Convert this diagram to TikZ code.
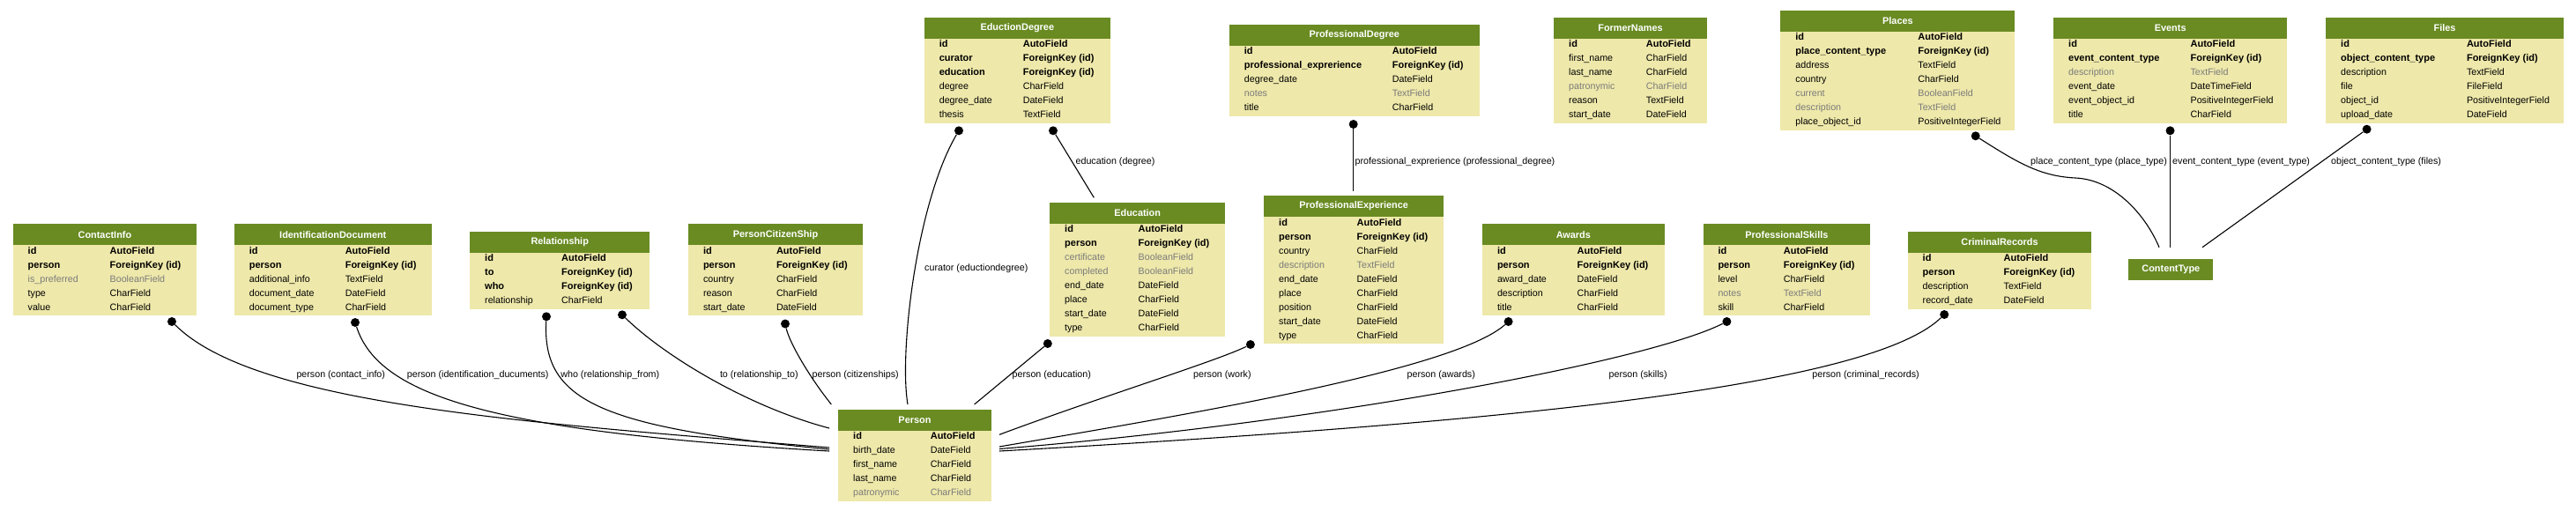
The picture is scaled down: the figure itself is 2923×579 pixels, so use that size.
\documentclass[tikz,border=0pt]{standalone}
\usepackage{fontspec}
\setmainfont{Liberation Sans}
\definecolor{hdr}{HTML}{698B22}
\definecolor{bodyc}{HTML}{EEE8AA}
\definecolor{nullc}{HTML}{7B7B7B}
\newcommand\ersz{\fontsize{10.7}{12.8}\selectfont}
\newcommand\erbsz{\fontsize{11}{13}\selectfont\bfseries}
\tikzset{
 hdrbox/.style={fill=hdr, text=white, font=\fontsize{10.9}{13}\selectfont\bfseries, inner sep=0pt, minimum height=24pt, anchor=north west},
 bodybox/.style={fill=bodyc, inner sep=0pt, anchor=north west},
 rowtxt/.style={inner sep=0pt, anchor=base west, font=\ersz},
 fk/.style={font=\erbsz},
 pl/.style={},
 nl/.style={text=nullc},
 fkdot/.style={circle, fill=black, inner sep=0pt, minimum size=10pt},
 rel/.style={line width=1.1pt, black},
 lbl/.style={inner sep=0pt, anchor=base west, font=\ersz},
}
% #1 id, #2 title, #3 x, #4 top, #5 width, #6 type offset, #7 rows count, #8 rows
\newcommand\ertable[8]{%
 \node[hdrbox, minimum width=#5pt] (#1) at (#3,#4) {#2};
 \node[bodybox, minimum width=#5pt, minimum height=#7*16pt] (#1-body) at (#3,#4+24) {};
 \foreach \st/\fn/\ft [count=\i from 0] in {#8} {
   \node[rowtxt,\st] (#1-n\i) at (#3+17,#4+34.5+16*\i) {\fn};
   \node[rowtxt,\st] (#1-t\i) at (#3+#6,#4+34.5+16*\i) {\ft};
 }
}
\begin{document}
\begin{tikzpicture}[x=1pt,y=-1pt]
\useasboundingbox (0,0) rectangle (2923,579);

\ertable{contact}{ContactInfo}{14.5}{254}{208.5}{110}{5}{fk/id/AutoField, fk/person/ForeignKey (id), nl/is\_preferred/BooleanField, pl/type/CharField, pl/value/CharField}
\ertable{iddoc}{IdentificationDocument}{265.6}{254}{224}{126}{5}{fk/id/AutoField, fk/person/ForeignKey (id), pl/additional\_info/TextField, pl/document\_date/DateField, pl/document\_type/CharField}
\ertable{rel}{Relationship}{533}{262.3}{204}{104}{4}{fk/id/AutoField, fk/to/ForeignKey (id), fk/who/ForeignKey (id), pl/relationship/CharField}
\ertable{pcs}{PersonCitizenShip}{780.8}{254}{198}{100}{5}{fk/id/AutoField, fk/person/ForeignKey (id), pl/country/CharField, pl/reason/CharField, pl/start\_date/DateField}
\ertable{edd}{EductionDegree}{1048.6}{19.3}{211}{112}{6}{fk/id/AutoField, fk/curator/ForeignKey (id), fk/education/ForeignKey (id), pl/degree/CharField, pl/degree\_date/DateField, pl/thesis/TextField}
\ertable{edu}{Education}{1191}{229.3}{199}{100.5}{8}{fk/id/AutoField, fk/person/ForeignKey (id), nl/certificate/BooleanField, nl/completed/BooleanField, pl/end\_date/DateField, pl/place/CharField, pl/start\_date/DateField, pl/type/CharField}
\ertable{pdeg}{ProfessionalDegree}{1394.7}{27.3}{283.6}{185}{5}{fk/id/AutoField, fk/professional\_exprerience/ForeignKey (id), pl/degree\_date/DateField, nl/notes/TextField, pl/title/CharField}
\ertable{pexp}{ProfessionalExperience}{1434}{221.7}{204}{105.5}{9}{fk/id/AutoField, fk/person/ForeignKey (id), pl/country/CharField, nl/description/TextField, pl/end\_date/DateField, pl/place/CharField, pl/position/CharField, pl/start\_date/DateField, pl/type/CharField}
\ertable{fn}{FormerNames}{1763}{19.3}{173.6}{104.7}{6}{fk/id/AutoField, pl/first\_name/CharField, pl/last\_name/CharField, nl/patronymic/CharField, pl/reason/TextField, pl/start\_date/DateField}
\ertable{pl}{Places}{2020.2}{11.3}{266}{156}{7}{fk/id/AutoField, fk/place\_content\_type/ForeignKey (id), pl/address/TextField, pl/country/CharField, nl/current/BooleanField, nl/description/TextField, pl/place\_object\_id/PositiveIntegerField}
\ertable{ev}{Events}{2330}{19.3}{265}{155.4}{6}{fk/id/AutoField, fk/event\_content\_type/ForeignKey (id), nl/description/TextField, pl/event\_date/DateTimeField, pl/event\_object\_id/PositiveIntegerField, pl/title/CharField}
\ertable{files}{Files}{2639}{19.3}{269.6}{159.8}{6}{fk/id/AutoField, fk/object\_content\_type/ForeignKey (id), pl/description/TextField, pl/file/FileField, pl/object\_id/PositiveIntegerField, pl/upload\_date/DateField}
\ertable{aw}{Awards}{1681.8}{254}{206.7}{107.7}{5}{fk/id/AutoField, fk/person/ForeignKey (id), pl/award\_date/DateField, pl/description/CharField, pl/title/CharField}
\ertable{ps}{ProfessionalSkills}{1932.3}{254}{189.8}{91.4}{5}{fk/id/AutoField, fk/person/ForeignKey (id), pl/level/CharField, nl/notes/TextField, pl/skill/CharField}
\ertable{cr}{CriminalRecords}{2164.5}{262.3}{208.7}{109}{4}{fk/id/AutoField, fk/person/ForeignKey (id), pl/description/TextField, pl/record\_date/DateField}
\ertable{person}{Person}{951}{464.3}{173.5}{104.6}{5}{fk/id/AutoField, pl/birth\_date/DateField, pl/first\_name/CharField, pl/last\_name/CharField, nl/patronymic/CharField}
\node[hdrbox, minimum width=95.8pt] (ct) at (2415.2,293.3) {ContentType};

% connector end points
\coordinate (pL1) at (941,508);
\coordinate (pL2) at (941,510);
\coordinate (pL3) at (941,512);
\coordinate (pLto) at (941,486);
\coordinate (pTcit) at (943.3,459);
\coordinate (pTcur) at (1030,459);
\coordinate (pTedu) at (1105.6,459);
\coordinate (pRwork) at (1134,493.3);
\coordinate (pR1) at (1134,507);
\coordinate (pR2) at (1134,509.5);
\coordinate (pR3) at (1134,512);
\coordinate (eduT) at (1241.3,224.3);
\coordinate (pexpT) at (1535.7,216.7);
\coordinate (ct1) at (2450,280.7);
\coordinate (ct2) at (2462.5,280.7);
\coordinate (ct3) at (2499,280.7);
\coordinate (plmid) at (2355,202);

% dots
\node[fkdot] (contact-dot) at (195,365) {};
\node[fkdot] (iddoc-dot) at (403,366) {};
\node[fkdot] (who-dot) at (620,359.3) {};
\node[fkdot] (to-dot) at (706,357.3) {};
\node[fkdot] (pcs-dot) at (891,367.5) {};
\node[fkdot] (cur-dot) at (1088,148.3) {};
\node[fkdot] (edud-dot) at (1195,148.3) {};
\node[fkdot] (pdeg-dot) at (1535.7,141) {};
\node[fkdot] (edu-dot) at (1188.8,390) {};
\node[fkdot] (pexp-dot) at (1418.9,391) {};
\node[fkdot] (aw-dot) at (1711.6,365) {};
\node[fkdot] (ps-dot) at (1959.4,365) {};
\node[fkdot] (cr-dot) at (2206.2,357) {};
\node[fkdot] (pl-dot) at (2241.7,154.3) {};
\node[fkdot] (ev-dot) at (2462.5,148.3) {};
\node[fkdot] (files-dot) at (2685.6,146.7) {};

% connectors
\draw[rel] (contact-dot) .. controls (290,460) and (600,480) .. (pL1);
\draw[rel] (iddoc-dot) .. controls (430,450) and (560,490) .. (pL3);
\draw[rel] (who-dot) .. controls (615,455) and (680,485) .. (pL2);
\draw[rel] (to-dot) .. controls (755,405) and (850,462) .. (pLto);
\draw[rel] (pcs-dot) .. controls (896,390) and (920,430) .. (pTcit);
\draw[rel] (cur-dot) .. controls (1040,230) and (1020,400) .. (pTcur);
\draw[rel] (edud-dot) -- (eduT);
\draw[rel] (pdeg-dot) -- (pexpT);
\draw[rel] (edu-dot) -- (pTedu);
\draw[rel] (pexp-dot) .. controls (1380,410) and (1250,450) .. (pRwork);
\draw[rel] (aw-dot) .. controls (1650,420) and (1350,470) .. (pR1);
\draw[rel] (ps-dot) .. controls (1870,410) and (1500,480) .. (pR2);
\draw[rel] (cr-dot) .. controls (2120,440) and (1700,480) .. (pR3);
\draw[rel] (pl-dot) .. controls (2290,185) and (2315,200) .. (plmid) .. controls (2400,204) and (2435,245) .. (ct1);
\draw[rel] (ev-dot) -- (ct2);
\draw[rel] (files-dot) -- (ct3);

% labels
\node[lbl] (l-contact) at (336.3,428.3) {person (contact\_info)};
\node[lbl] (l-iddoc) at (461.7,428.3) {person (identification\_ducuments)};
\node[lbl] (l-who) at (636.2,428.3) {who (relationship\_from)};
\node[lbl] (l-to) at (816.8,428.3) {to (relationship\_to)};
\node[lbl] (l-pcs) at (921.4,428.3) {person (citizenships)};
\node[lbl] (l-cur) at (1049,307.3) {curator (eductiondegree)};
\node[lbl] (l-edud) at (1220.4,186.3) {education (degree)};
\node[lbl] (l-pdeg) at (1537.5,186.3) {professional\_exprerience (professional\_degree)};
\node[lbl] (l-edu) at (1148.5,428.3) {person (education)};
\node[lbl] (l-work) at (1354,428.3) {person (work)};
\node[lbl] (l-aw) at (1596.4,428.3) {person (awards)};
\node[lbl] (l-ps) at (1825.4,428.3) {person (skills)};
\node[lbl] (l-cr) at (2056.2,428.3) {person (criminal\_records)};
\node[lbl] (l-pl) at (2304,186.3) {place\_content\_type (place\_type)};
\node[lbl] (l-ev) at (2465,186.3) {event\_content\_type (event\_type)};
\node[lbl] (l-files) at (2644.9,186.3) {object\_content\_type (files)};
\end{tikzpicture}
\end{document}
